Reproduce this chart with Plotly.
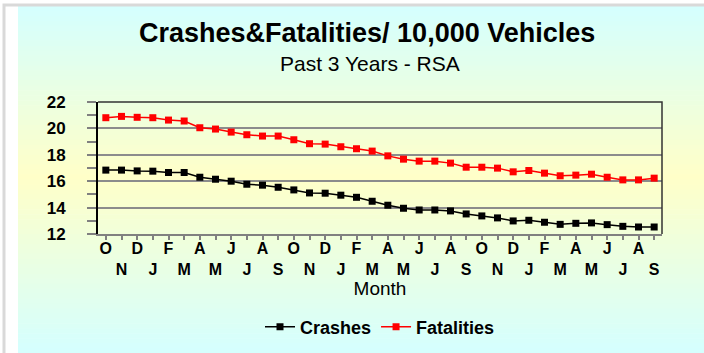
import plotly.graph_objects as go

months = ["O", "N", "D", "J", "F", "M", "A", "M", "J", "J", "A", "S"] * 3
crashes = [16.84, 16.84, 16.78, 16.76, 16.66, 16.66, 16.30, 16.15, 16.00, 15.77, 15.70, 15.54,
           15.34, 15.11, 15.09, 14.94, 14.78, 14.48, 14.18, 13.95, 13.82, 13.82, 13.75, 13.52,
           13.37, 13.22, 12.99, 13.04, 12.89, 12.73, 12.81, 12.84, 12.71, 12.58, 12.53, 12.53]
fatalities = [20.81, 20.91, 20.84, 20.81, 20.63, 20.56, 20.05, 19.95, 19.72, 19.52, 19.42, 19.42,
              19.14, 18.84, 18.81, 18.61, 18.46, 18.28, 17.92, 17.67, 17.52, 17.52, 17.37, 17.06,
              17.06, 16.99, 16.71, 16.81, 16.61, 16.41, 16.46, 16.53, 16.30, 16.10, 16.10, 16.23]
y_ticks = [12, 14, 16, 18, 20, 22]

W, H = 704, 353
L, R, T, B = 98, 42, 102, 119
PW, PH = W - L - R, H - T - B

def px(x):
    return (x - L) / PW

def py(y):
    return (H - B - y) / PH

FONT = "Liberation Sans, Arial, sans-serif"

xs = list(range(len(months)))
ticktext = [m if i % 2 == 0 else "<br>" + m for i, m in enumerate(months)]

fig = go.Figure()
fig.add_trace(go.Scatter(x=xs, y=crashes, name="Crashes", mode="lines+markers",
                         line=dict(color="black", width=1.5),
                         marker=dict(symbol="square", size=7, color="black")))
fig.add_trace(go.Scatter(x=xs, y=fatalities, name="Fatalities", mode="lines+markers",
                         line=dict(color="#FF0000", width=1.5),
                         marker=dict(symbol="square", size=7, color="#FF0000")))

shapes = []
# gradient background
top, bot, mid = 6, 353, 177
c1 = (212, 255, 255)
c2 = (255, 255, 200)
n = 70
step = (bot - top) / n
for i in range(n):
    y0 = top + i * step
    y1 = y0 + step + 0.6
    if i == n - 1:
        y1 = H + 10
    yc = (y0 + y0 + step) / 2
    t = 1 - abs(yc - mid) / (mid - top if yc < mid else bot - mid)
    t = max(0, min(1, t))
    col = tuple(int(round(c1[k] + (c2[k] - c1[k]) * t)) for k in range(3))
    shapes.append(dict(type="rect", xref="paper", yref="paper", layer="below",
                       x0=px(18), x1=px(W + 10), y0=py(y1), y1=py(y0),
                       fillcolor="rgb(%d,%d,%d)" % col, line=dict(width=0)))
# outer gray frame (top and left edges)
shapes.append(dict(type="path", xref="paper", yref="paper", layer="below",
                   path="M %f %f L %f %f L %f %f" % (px(4), py(H + 10), px(4), py(5), px(W + 10), py(5)),
                   line=dict(color="#D9D9D9", width=3)))
# plot frame top/right
shapes.append(dict(type="path", xref="paper", yref="paper", layer="above",
                   path="M 0 1 L 1 1 L 1 0", line=dict(color="#333333", width=1.5)))

fig.update_layout(
    width=W, height=H,
    margin=dict(l=L, r=R, t=T, b=B, autoexpand=False),
    paper_bgcolor="white",
    plot_bgcolor="rgba(0,0,0,0)",
    shapes=shapes,
    showlegend=True,
    legend=dict(orientation="h", x=0.5, xanchor="center", y=py(327), yanchor="middle",
                font=dict(family=FONT, size=18, color="black", weight="bold"),
                bgcolor="rgba(0,0,0,0)", itemwidth=30),
    xaxis=dict(range=[-0.5, 35.5], tickmode="array", tickvals=xs, ticktext=ticktext,
               ticks="outside", ticklen=4, tickcolor="#808080", tickwidth=1.5,
               showline=True, linecolor="#808080", linewidth=1.5,
               showgrid=False, zeroline=False, automargin=False,
               ticklabelstandoff=-5,
               tickfont=dict(family=FONT, size=16, color="black", weight="bold"),
               title=dict(text="Month", font=dict(family=FONT, size=19, color="black"), standoff=0)),
    yaxis=dict(range=[12, 22], tickmode="array", tickvals=y_ticks,
               ticks="outside", ticklen=9, tickcolor="#808080", tickwidth=1.5,
               minor=dict(dtick=1, ticks="outside", ticklen=9, tickcolor="#808080", tickwidth=1.5, showgrid=False),
               showline=True, linecolor="black", linewidth=2,
               showgrid=True, gridcolor="#8C8C8C", gridwidth=1.5, zeroline=False, automargin=False,
               ticklabelstandoff=18,
               tickfont=dict(family=FONT, size=17, color="black", weight="bold")),
    annotations=[
        dict(text="Crashes&Fatalities/ 10,000 Vehicles", xref="paper", yref="paper",
             x=px(367), y=py(33.5), xanchor="center", yanchor="middle", showarrow=False,
             font=dict(family=FONT, size=27, color="black", weight="bold")),
        dict(text="Past 3 Years - RSA", xref="paper", yref="paper",
             x=px(370), y=py(63), xanchor="center", yanchor="middle", showarrow=False,
             font=dict(family=FONT, size=21, color="black")),
    ],
)

fig.write_html("out.html", config={"displayModeBar": False},
               post_script="document.body.style.margin='0';document.body.style.overflow='hidden';")
